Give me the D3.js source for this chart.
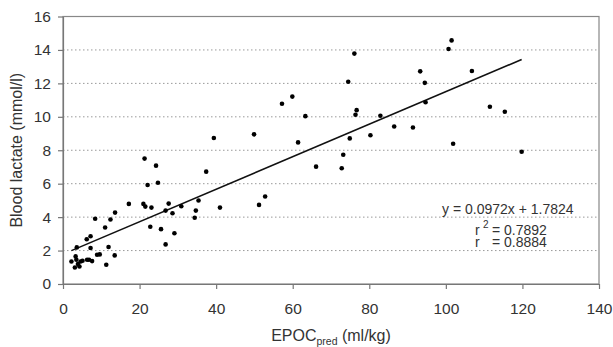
<!DOCTYPE html>
<html>
<head>
<meta charset="utf-8">
<script src="https://cdn.jsdelivr.net/npm/d3@7"></script>
<style>
    body { margin: 0; background: #fff; }
    svg text { font-family: "Liberation Sans", Arial, sans-serif; fill: #333; }
</style>
</head>
<body>
<div id="container"></div>
<script>
const epoc = [101.5, 100.7, 76.1, 74.5, 93.3, 106.8, 94.5, 94.7, 59.9, 57.2,
    76.7, 76.4, 63.3, 82.9, 111.5, 115.4, 86.5, 91.4, 49.9, 39.4,
    74.9, 80.3, 61.4, 101.9, 119.8, 73.2, 66.1, 72.8, 37.4, 21.3,
    24.3, 24.8, 22.1, 52.8, 51.2, 35.4, 41.0, 17.2, 21.0, 21.5,
    23.1, 27.6, 30.9, 26.8, 28.6, 34.7, 34.4, 13.6, 12.4, 8.4,
    22.8, 25.6, 29.1, 26.8, 11.0, 7.2, 6.2, 7.2, 3.6, 11.9,
    13.5, 9.6, 8.9, 11.3, 6.8, 7.6, 6.3, 3.3, 3.5, 2.2,
    4.6, 3.9, 4.3, 3.1, 5.1];
const lactate = [14.57, 14.06, 13.78, 12.10, 12.72, 12.74, 12.03, 10.87, 11.21, 10.78,
    10.40, 10.12, 10.04, 10.06, 10.60, 10.30, 9.42, 9.36, 8.95, 8.73,
    8.71, 8.90, 8.47, 8.39, 7.91, 7.73, 7.02, 6.92, 6.72, 7.50,
    7.08, 6.06, 5.92, 5.23, 4.73, 4.99, 4.57, 4.79, 4.79, 4.63,
    4.57, 4.81, 4.65, 4.39, 4.23, 4.39, 3.96, 4.27, 3.86, 3.90,
    3.42, 3.28, 3.04, 2.37, 3.38, 2.86, 2.68, 2.15, 2.19, 2.21,
    1.71, 1.77, 1.75, 1.15, 1.45, 1.37, 1.45, 1.65, 1.45, 1.35,
    1.35, 1.19, 1.05, 0.99, 1.39];

// regression y = 0.0972x + 1.7824, drawn over the observed range
const slope = 0.0972;
const intercept = 1.7824;
const fitRange = [2.2, 119.8];

const xTicks = [0, 20, 40, 60, 80, 100, 120, 140];
const yTicks = [0, 2, 4, 6, 8, 10, 12, 14, 16];

const width = 613, height = 347;
const margin = {top: 16.5, right: 14, bottom: 63, left: 63};
const w = width - margin.left - margin.right;
const h = height - margin.top - margin.bottom;

const svg = d3.select('#container').append('svg')
    .attr('width', width)
    .attr('height', height);

const g = svg.append('g')
    .attr('transform', 'translate(' + margin.left + ',' + margin.top + ')');

const xScale = d3.scaleLinear().domain([0, 140]).range([0, w]);
const yScale = d3.scaleLinear().domain([0, 16]).range([h, 0]);

// dotted gridlines
g.selectAll('.grid')
    .data(yTicks.filter(d => d > 0 && d < 16))
    .enter()
    .append('line')
    .attr('class', 'grid')
    .attr('x1', 0)
    .attr('x2', w)
    .attr('y1', d => yScale(d))
    .attr('y2', d => yScale(d))
    .style('stroke', '#999')
    .style('stroke-width', 1)
    .style('stroke-dasharray', '1.5,2.5');

// plot frame
g.append('rect')
    .attr('width', w)
    .attr('height', h)
    .style('fill', 'none')
    .style('stroke', '#888')
    .style('stroke-width', 1.2);

// axes
const xAxis = d3.axisBottom(xScale)
    .tickValues(xTicks)
    .tickSize(5)
    .tickSizeOuter(0)
    .tickPadding(14);
const yAxis = d3.axisLeft(yScale)
    .tickValues(yTicks)
    .tickSize(5)
    .tickSizeOuter(0)
    .tickPadding(7);

const gx = g.append('g')
    .attr('transform', 'translate(0,' + h + ')')
    .call(xAxis);
const gy = g.append('g').call(yAxis);

[gx, gy].forEach(ax => {
    ax.select('.domain').style('stroke', '#777').style('stroke-width', 1.2);
    ax.selectAll('.tick line').style('stroke', '#777').style('stroke-width', 1.2);
    ax.selectAll('.tick text')
        .style('font-size', '15.5px')
        .style('font-family', '"Liberation Sans", Arial, sans-serif')
        .attr('fill', '#333');
});

// regression line
const line = d3.line()
    .x(d => xScale(d))
    .y(d => yScale(slope * d + intercept));
g.append('path')
    .datum(fitRange)
    .attr('d', line)
    .style('fill', 'none')
    .style('stroke', '#111')
    .style('stroke-width', 1.6);

// points
g.selectAll('.dot')
    .data(epoc.map((x, i) => ({x: x, y: lactate[i]})))
    .enter()
    .append('circle')
    .attr('class', 'dot')
    .attr('cx', d => xScale(d.x))
    .attr('cy', d => yScale(d.y))
    .attr('r', 2.3)
    .style('fill', '#000');

// equation block
const eq = g.append('g').style('font-size', '14px');
eq.append('text')
    .attr('x', 379)
    .attr('y', 197)
    .text('y = 0.0972x + 1.7824');
eq.append('text').attr('x', 412).attr('y', 218.5).text('r');
eq.append('text').attr('x', 420).attr('y', 211).style('font-size', '10px').text('2');
eq.append('text').attr('x', 429).attr('y', 218.5).text('= 0.7892');
eq.append('text').attr('x', 412).attr('y', 230).text('r');
eq.append('text').attr('x', 429).attr('y', 230).text('= 0.8884');

// axis titles
const xTitle = svg.append('text')
    .attr('x', margin.left + w / 2)
    .attr('y', 341)
    .attr('text-anchor', 'middle')
    .style('font-size', '16px');
xTitle.append('tspan').text('EPOC');
xTitle.append('tspan').attr('dy', 4).style('font-size', '10.5px').text('pred');
xTitle.append('tspan').attr('dy', -4).text(' (ml/kg)');

svg.append('text')
    .attr('transform', 'translate(21.5,' + (margin.top + h / 2) + ') rotate(-90)')
    .attr('text-anchor', 'middle')
    .style('font-size', '16px')
    .text('Blood lactate (mmol/l)');
</script>
</body>
</html>
